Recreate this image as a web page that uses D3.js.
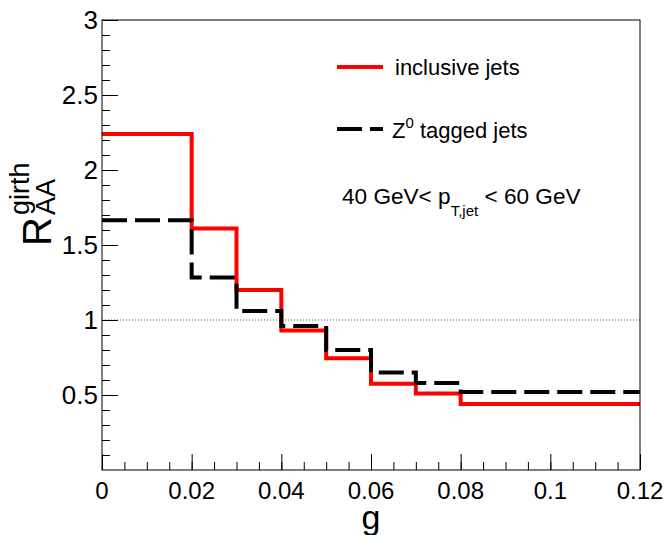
<!DOCTYPE html>
<html lang="en">
  <head>
    <meta charset="utf-8" />
    <script src="https://d3js.org/d3.v7.min.js"></script>
    <style>
      body { margin: 0; background: #fff; }
      text { font-family: "Liberation Sans", Arial, sans-serif; }
    </style>
  </head>
  <body>
    <script>
      // bin edges in g, and R_AA per bin
      var binEdges = [0, 0.02, 0.03, 0.04, 0.05, 0.06, 0.07, 0.08, 0.12];
      var inclusiveJets = [2.24, 1.61, 1.2, 0.93, 0.745, 0.575, 0.51, 0.44];
      var zTaggedJets = [1.665, 1.283, 1.06, 0.96, 0.8, 0.65, 0.58, 0.52];
      var xTicks = [0, 0.02, 0.04, 0.06, 0.08, 0.1, 0.12];
      var yTicks = [0.5, 1, 1.5, 2, 2.5, 3];

      var width = 669,
        height = 535;
      // frame edges (don't use "top", it's window.top)
      var fLeft = 102,
        fRight = 640,
        fTop = 20,
        fBottom = 470;

      var svg = d3
        .select("body")
        .append("svg")
        .attr("width", width)
        .attr("height", height);

      var x = d3.scaleLinear().domain([0, 0.12]).range([fLeft, fRight]);
      var y = d3.scaleLinear().domain([0, 3]).range([fBottom, fTop]);

      // dotted line at 1
      svg
        .append("line")
        .attr("x1", x(0))
        .attr("x2", x(0.12))
        .attr("y1", y(1))
        .attr("y2", y(1))
        .attr("stroke", "#555")
        .attr("stroke-width", 1)
        .attr("stroke-dasharray", "1,2");

      // step histograms
      function stepPoints(vals) {
        var pts = vals.map(function (v, i) {
          return [binEdges[i], v];
        });
        pts.push([binEdges[binEdges.length - 1], vals[vals.length - 1]]);
        return pts;
      }
      var line = d3
        .line()
        .x(function (d) { return x(d[0]); })
        .y(function (d) { return y(d[1]); })
        .curve(d3.curveStepAfter);

      svg
        .append("path")
        .attr("d", line(stepPoints(inclusiveJets)))
        .attr("fill", "none")
        .attr("stroke", "#ff0000")
        .attr("stroke-width", 4);

      svg
        .append("path")
        .attr("d", line(stepPoints(zTaggedJets)))
        .attr("fill", "none")
        .attr("stroke", "#000")
        .attr("stroke-width", 4)
        .attr("stroke-dasharray", "25,8");

      // frame
      svg
        .append("rect")
        .attr("x", fLeft)
        .attr("y", fTop)
        .attr("width", fRight - fLeft)
        .attr("height", fBottom - fTop)
        .attr("fill", "none")
        .attr("stroke", "#000")
        .attr("stroke-width", 1);

      // y axis: major + minor ticks
      svg
        .append("g")
        .attr("transform", "translate(" + fLeft + ",0)")
        .call(d3.axisRight(y).tickValues(yTicks).tickSize(16).tickFormat(""));
      var yMinor = d3.range(1, 30).map(function (i) { return i / 10; });
      svg
        .append("g")
        .attr("transform", "translate(" + fLeft + ",0)")
        .call(d3.axisRight(y).tickValues(yMinor).tickSize(8).tickFormat(""));

      // x axis
      svg
        .append("g")
        .attr("transform", "translate(0," + fBottom + ")")
        .call(d3.axisTop(x).tickValues(xTicks).tickSize(16).tickFormat(""));
      var xMinor = d3.range(1, 24).map(function (i) { return i * 0.005; });
      svg
        .append("g")
        .attr("transform", "translate(0," + fBottom + ")")
        .call(d3.axisTop(x).tickValues(xMinor).tickSize(8).tickFormat(""));

      svg.selectAll(".domain").remove();
      svg.selectAll(".tick line").attr("stroke", "#000");

      // tick labels
      svg
        .selectAll(".xlab")
        .data(xTicks)
        .join("text")
        .attr("class", "xlab")
        .attr("x", function (d) { return x(d); })
        .attr("y", 499)
        .attr("text-anchor", "middle")
        .attr("font-size", 24)
        .text(function (d) { return d3.format("")(d); });

      svg
        .selectAll(".ylab")
        .data(yTicks)
        .join("text")
        .attr("class", "ylab")
        .attr("x", 98)
        .attr("y", function (d) { return y(d) + 9; })
        .attr("text-anchor", "end")
        .attr("font-size", 26)
        .text(function (d) { return d; });

      // axis titles
      svg
        .append("text")
        .attr("x", 371)
        .attr("y", 529)
        .attr("text-anchor", "middle")
        .attr("font-size", 34)
        .text("g");

      var yt = svg.append("g").attr("transform", "translate(51,246) rotate(-90)");
      yt.append("text").attr("x", 0).attr("y", 0).attr("font-size", 40).text("R");
      yt.append("text").attr("x", 31).attr("y", -22).attr("font-size", 27).text("girth");
      yt.append("text").attr("x", 31).attr("y", 4).attr("font-size", 27).text("AA");

      // legend
      var legend = [
        { color: "#ff0000", dash: null, yy: 67 },
        { color: "#000", dash: "25,8", yy: 129 }
      ];
      legend.forEach(function (d) {
        svg
          .append("line")
          .attr("x1", 337)
          .attr("x2", 383)
          .attr("y1", d.yy)
          .attr("y2", d.yy)
          .attr("stroke", d.color)
          .attr("stroke-width", 4)
          .attr("stroke-dasharray", d.dash);
      });
      svg
        .append("text")
        .attr("x", 395)
        .attr("y", 75)
        .attr("font-size", 22)
        .text("inclusive jets");
      var zt = svg.append("text").attr("x", 392).attr("y", 138).attr("font-size", 22);
      zt.append("tspan").text("Z");
      zt.append("tspan").attr("font-size", 15).attr("dy", -10).text("0");
      zt.append("tspan").attr("dy", 10).text(" tagged jets");

      // kinematic range
      var kt = svg.append("text").attr("x", 342).attr("y", 204).attr("font-size", 22.6);
      kt.append("tspan").text("40 GeV< p");
      kt.append("tspan").attr("font-size", 15).attr("dy", 12).text("T,jet");
      kt.append("tspan").attr("dy", -12).text(" < 60 GeV");

      console.log("ready..");
    </script>
  </body>
</html>
